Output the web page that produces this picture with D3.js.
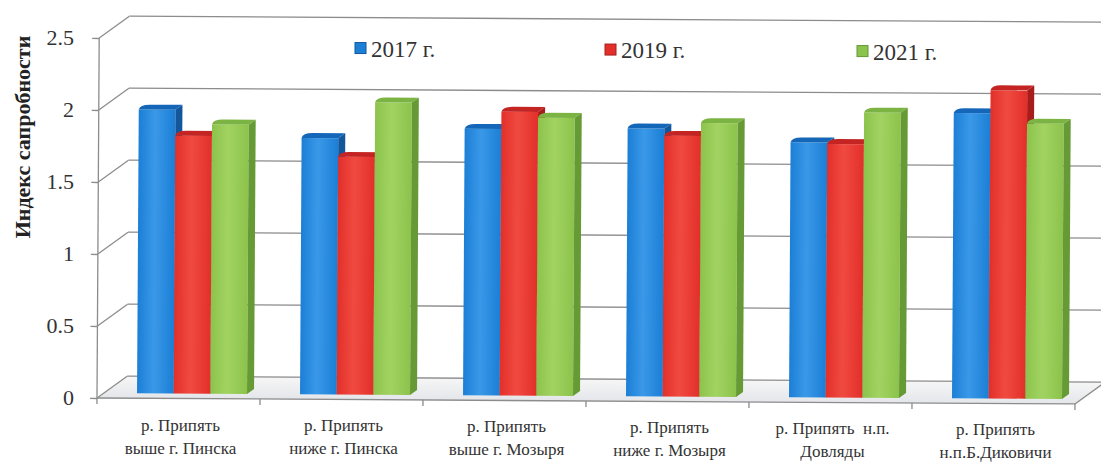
<!DOCTYPE html>
<html>
<head>
<meta charset="utf-8">
<script src="https://cdn.jsdelivr.net/npm/d3@7"></script>
</head>
<body style="margin:0;background:#fff">
<svg id="saprobity" width="1101" height="464"></svg>
<script>
// Saprobity index of the Pripyat river at monitoring points
const categories = [
  ["р. Припять", "выше г. Пинска"],
  ["р. Припять", "ниже г. Пинска"],
  ["р. Припять", "выше г. Мозыря"],
  ["р. Припять", "ниже г. Мозыря"],
  ["р. Припять  н.п.", "Довляды"],
  ["р. Припять", "н.п.Б.Диковичи"]
];
const seriesNames = ["2017 г.", "2019 г.", "2021 г."];
const values2017 = [1.97, 1.78, 1.85, 1.86, 1.77, 1.98];
const values2019 = [1.79, 1.65, 1.97, 1.81, 1.76, 2.14];
const values2021 = [1.87, 2.03, 1.93, 1.90, 1.98, 1.91];
const yTicks = [0, 0.5, 1, 1.5, 2, 2.5];
const yTickLabels = ["0", "0.5", "1", "1.5", "2", "2.5"];
const yTitle = "Индекс сапробности";

const seriesValues = [values2017, values2019, values2021];
const colors = [
  { front: "#1b7fd6", light: "#3a98e8", side: "#12569c", top: "#1467b8" },
  { front: "#e22f2a", light: "#f04a40", side: "#a81d1c", top: "#c42523" },
  { front: "#8cc34c", light: "#a2d362", side: "#669a34", top: "#7cb443" }
];

// serif text style, set inline so it wins over any inherited font
function serifStyle(size, weight) {
  return `font-family: 'Liberation Serif' !important; font-size: ${size}px; font-weight: ${weight || "normal"}; white-space: pre;`;
}

const svg = d3.select("#saprobity");
const defs = svg.append("defs");
colors.forEach((c, i) => {
  const g = defs.append("linearGradient").attr("id", "face" + i)
    .attr("x1", "0%").attr("x2", "100%").attr("y1", "0%").attr("y2", "0%");
  g.append("stop").attr("offset", "0%").attr("stop-color", c.front);
  g.append("stop").attr("offset", "45%").attr("stop-color", c.light);
  g.append("stop").attr("offset", "100%").attr("stop-color", c.front);
});
const floorGrad = defs.append("linearGradient").attr("id", "floorGrad")
  .attr("x1", "0%").attr("x2", "0%").attr("y1", "0%").attr("y2", "100%");
floorGrad.append("stop").attr("offset", "0%").attr("stop-color", "#f6f6f6");
floorGrad.append("stop").attr("offset", "100%").attr("stop-color", "#e4e6ea");

// the sheet is tilted a touch clockwise; texts stay level and just follow the drop
const tilt = 6 / 1000;
const root = svg.append("g").attr("transform", "rotate(0.35, 97, 398)");
const labelsLayer = svg.append("g");

// plot frame: front plane plus an oblique depth offset for the walls
const left = 97, right = 1075;
const depthX = 30, depthY = -22;
const y = d3.scaleLinear().domain([0, 2.5]).range([398, 38]);
const x0 = d3.scaleBand().domain(d3.range(categories.length)).range([left, right]);
const x1 = d3.scaleBand().domain(d3.range(seriesNames.length)).range([40, 150]);

const gridColor = "#8c8c8c";

// floor
root.append("path")
  .attr("d", d3.line()([[left, y(0)], [right, y(0)], [right + depthX, y(0) + depthY], [left + depthX, y(0) + depthY]]) + "Z")
  .attr("fill", "url(#floorGrad)");

// back-wall gridlines
root.append("g").selectAll("line").data(yTicks).join("line")
  .attr("x1", left + depthX).attr("x2", right + depthX + 40)
  .attr("y1", d => y(d) + depthY).attr("y2", d => y(d) + depthY)
  .attr("stroke", gridColor).attr("stroke-width", 1.3);

// side-wall gridlines
root.append("g").selectAll("line").data(yTicks).join("line")
  .attr("x1", left).attr("x2", left + depthX)
  .attr("y1", d => y(d)).attr("y2", d => y(d) + depthY)
  .attr("stroke", gridColor).attr("stroke-width", 1.3);

// right floor edge
root.append("line")
  .attr("x1", right).attr("y1", y(0)).attr("x2", right + depthX).attr("y2", y(0) + depthY)
  .attr("stroke", gridColor).attr("stroke-width", 1.3);

// 3D columns
const barDX = 7, barDY = -5, barLift = 5;
const bars = root.append("g");
categories.forEach((cat, ci) => {
  seriesValues.forEach((vals, si) => {
    const v = vals[ci];
    const bx = x0(ci) + x1(si);
    const w = x1.bandwidth();
    const base = y(0) - barLift;
    const top = base - (y(0) - y(v));
    const c = colors[si];
    const g = bars.append("g");
    g.append("rect").attr("x", bx).attr("y", top).attr("width", w).attr("height", base - top)
      .attr("fill", "url(#face" + si + ")");
    g.append("path")
      .attr("d", `M${bx},${top} Q${bx + 1},${top + barDY} ${bx + barDX + 4},${top + barDY} L${bx + w + barDX},${top + barDY} L${bx + w},${top} Z`)
      .attr("fill", c.top);
    g.append("path")
      .attr("d", d3.line()([[bx + w, top], [bx + w + barDX, top + barDY], [bx + w + barDX, base + barDY], [bx + w, base]]) + "Z")
      .attr("fill", c.side);
  });
});

// front axes
root.append("line").attr("x1", left).attr("x2", left).attr("y1", y(0)).attr("y2", y(2.5))
  .attr("stroke", gridColor).attr("stroke-width", 1.3);
root.append("line").attr("x1", left).attr("x2", right).attr("y1", y(0)).attr("y2", y(0))
  .attr("stroke", gridColor).attr("stroke-width", 1.3);

// value axis ticks (labels drawn separately, level)
const yAxis = d3.axisLeft(y).tickValues(yTicks).tickSize(7).tickFormat("");
const ya = root.append("g").attr("transform", `translate(${left},0)`).call(yAxis);
ya.select(".domain").remove();
ya.selectAll(".tick line").attr("stroke", gridColor).attr("stroke-width", 1.3);

labelsLayer.append("g").selectAll("text").data(yTicks).join("text")
  .attr("x", 74).attr("y", d => y(d) + 7)
  .attr("text-anchor", "end")
  .attr("style", serifStyle(22))
  .attr("fill", "#333")
  .text((d, i) => yTickLabels[i]);

// category ticks
root.append("g").selectAll("line").data(d3.range(categories.length + 1)).join("line")
  .attr("x1", d => left + d * x0.step()).attr("x2", d => left + d * x0.step())
  .attr("y1", y(0)).attr("y2", y(0) + 6)
  .attr("stroke", gridColor).attr("stroke-width", 1.3);

// category labels
categories.forEach((lines, ci) => {
  const cx = x0(ci) + x0.bandwidth() / 2 + 2;
  const drop = (cx - left) * tilt;
  const t = labelsLayer.append("text").attr("text-anchor", "middle")
    .attr("style", serifStyle(17))
    .attr("fill", "#333");
  lines.forEach((ln, li) => {
    t.append("tspan").attr("x", cx).attr("y", 430 + li * 23 + drop).text(ln);
  });
});

// value axis title
labelsLayer.append("text")
  .attr("transform", "translate(30,137) rotate(-90)")
  .attr("text-anchor", "middle")
  .attr("style", serifStyle(22, "bold"))
  .attr("fill", "#222").text(yTitle);

// legend
const legendX = [355, 605, 857];
seriesNames.forEach((name, i) => {
  const drop = (legendX[i] - left) * tilt;
  labelsLayer.append("rect").attr("x", legendX[i]).attr("y", 41 + drop).attr("width", 11).attr("height", 11)
    .attr("fill", colors[i].front).attr("stroke", colors[i].side).attr("stroke-width", 1);
  labelsLayer.append("text").attr("x", legendX[i] + 16).attr("y", 55 + drop)
    .attr("style", serifStyle(23))
    .attr("fill", "#333").text(name);
});
</script>
</body>
</html>
